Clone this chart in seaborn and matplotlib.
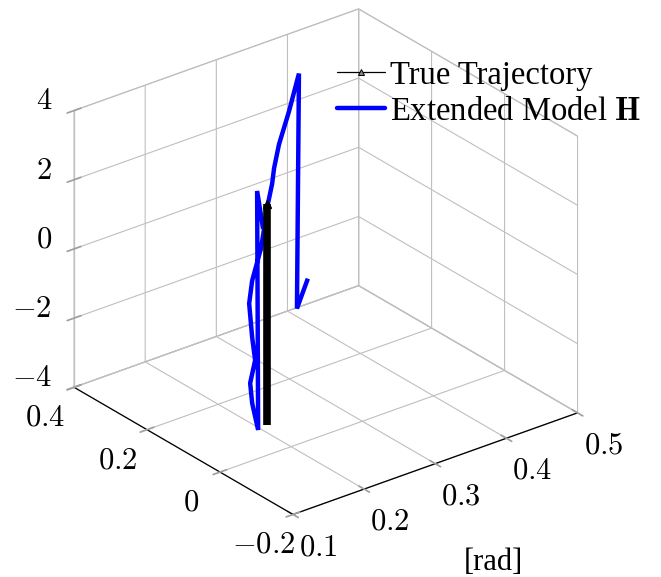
import seaborn as sns
import matplotlib
matplotlib.use('Agg')
import matplotlib.pyplot as plt
from matplotlib.lines import Line2D

sns.set_theme(style='white')
plt.rcParams['font.family'] = ['Liberation Serif', 'DejaVu Serif']
plt.rcParams['mathtext.fontset'] = 'cm'
plt.rcParams['text.color'] = 'black'

# tick values
x_ticks = [0.1, 0.2, 0.3, 0.4, 0.5]
y_ticks = [-0.2, 0, 0.2, 0.4]
z_ticks = [-4, -2, 0, 2, 4]
x_labels = ['$0.1$', '$0.2$', '$0.3$', '$0.4$', '$0.5$']
y_labels = ['$-0.2$', '$0$', '$0.2$', '$0.4$']
z_labels = ['$-4$', '$-2$', '$0$', '$2$', '$4$']

# true trajectory
true_x = [0.2, 0.2]
true_y = [0.066, 0.066]
true_z = [-3.77, 2.62]

# extended model
model_x = [0.364, 0.3487, 0.3515, 0.3098, 0.265, 0.2273, 0.2091, 0.1881, 0.1783,
           0.1657, 0.1615, 0.1657, 0.1699, 0.1629, 0.1657, 0.1741, 0.1727, 0.1811]
model_y = [0.274, 0.274, 0.274, 0.22, 0.16, 0.10, 0.07, 0.04, 0.04,
           0.04, 0.04, 0.04, 0.04, 0.04, 0.04, 0.04, 0.04, 0.04]
model_z = [-2.026, -2.777, 3.994, 3.537, 3.283, 3.237, 3.097, 2.886, 1.663,
           0.806, 0.176, -0.834, -1.525, -2.135, -2.734, -3.571, 3.347, 2.19]

grid_c = '#bfbfbf'
tick_c = '#a0a0a0'

fig = plt.figure(figsize=(6.61, 5.77), dpi=100)
ax = fig.add_axes([-12.5 / 661, 19 / 577, 1, 1], projection='3d', proj_type='ortho')
ax.computed_zorder = False
ax.view_init(elev=27.1, azim=-128.1)
ax.set_box_aspect((363.4, 356.6, 312.4), zoom=1.0)

ax.plot(model_x, model_y, model_z, color='#0000ff', lw=3.2, zorder=3,
        solid_joinstyle='miter', solid_capstyle='butt')
ax.plot(true_x, true_y, true_z, color='black', lw=5.5, zorder=4,
        solid_capstyle='butt', marker='^', ms=5.5, markevery=[1])

ax.set_xlim(0.1, 0.5, view_margin=0)
ax.set_ylim(-0.2, 0.4, view_margin=0)
ax.set_zlim(-4, 4, view_margin=0)
ax.set_xticks(x_ticks, x_labels)
ax.set_yticks(y_ticks, y_labels)
ax.set_zticks(z_ticks, z_labels)
ax.tick_params(labelsize=22, color=tick_c, labelcolor='black')
ax.tick_params(axis='x', pad=17.5)
ax.tick_params(axis='y', pad=14)
ax.tick_params(axis='z', pad=1.5)

for axis in (ax.xaxis, ax.yaxis, ax.zaxis):
    axis.set_pane_color((1, 1, 1, 1))
    axis.pane.set_edgecolor(grid_c)
    axis.pane.set_linewidth(0.8)
    axis.line.set_color('black')
    axis.line.set_linewidth(0.9)
    axis._axinfo['grid'].update(color=grid_c, linewidth=0.8)
    axis._axinfo['tick'].update(color=tick_c, inward_factor=0.3, outward_factor=0.3)
ax.zaxis.line.set_color(grid_c)

# label anchors differ per axis
for lab in ax.get_xticklabels():
    lab.set_va('bottom')
for lab in ax.get_yticklabels():
    lab.set_va('baseline')
for lab in ax.get_zticklabels():
    lab.set_va('baseline')
    lab.set_ha('right')
ax.grid(True)

handles = [Line2D([], [], color='black', lw=0.9, marker='^', ms=4, mfc='#888888', mec='black', mew=0.7),
           Line2D([], [], color='#0000ff', lw=3.2)]
ax.legend(handles, ['True Trajectory', r'Extended Model $\mathbf{H}$'], frameon=False,
          fontsize=23.5, loc='upper left', bbox_to_anchor=(0.5325, 0.8626), handlelength=1.47,
          handletextpad=0.15, labelspacing=0.16, borderpad=0, borderaxespad=0)
fig.text(493 / 661, 1 - 563 / 577, '[rad]', fontsize=22, ha='center', va='center', color='black')

fig.savefig('out.png', dpi=100)
